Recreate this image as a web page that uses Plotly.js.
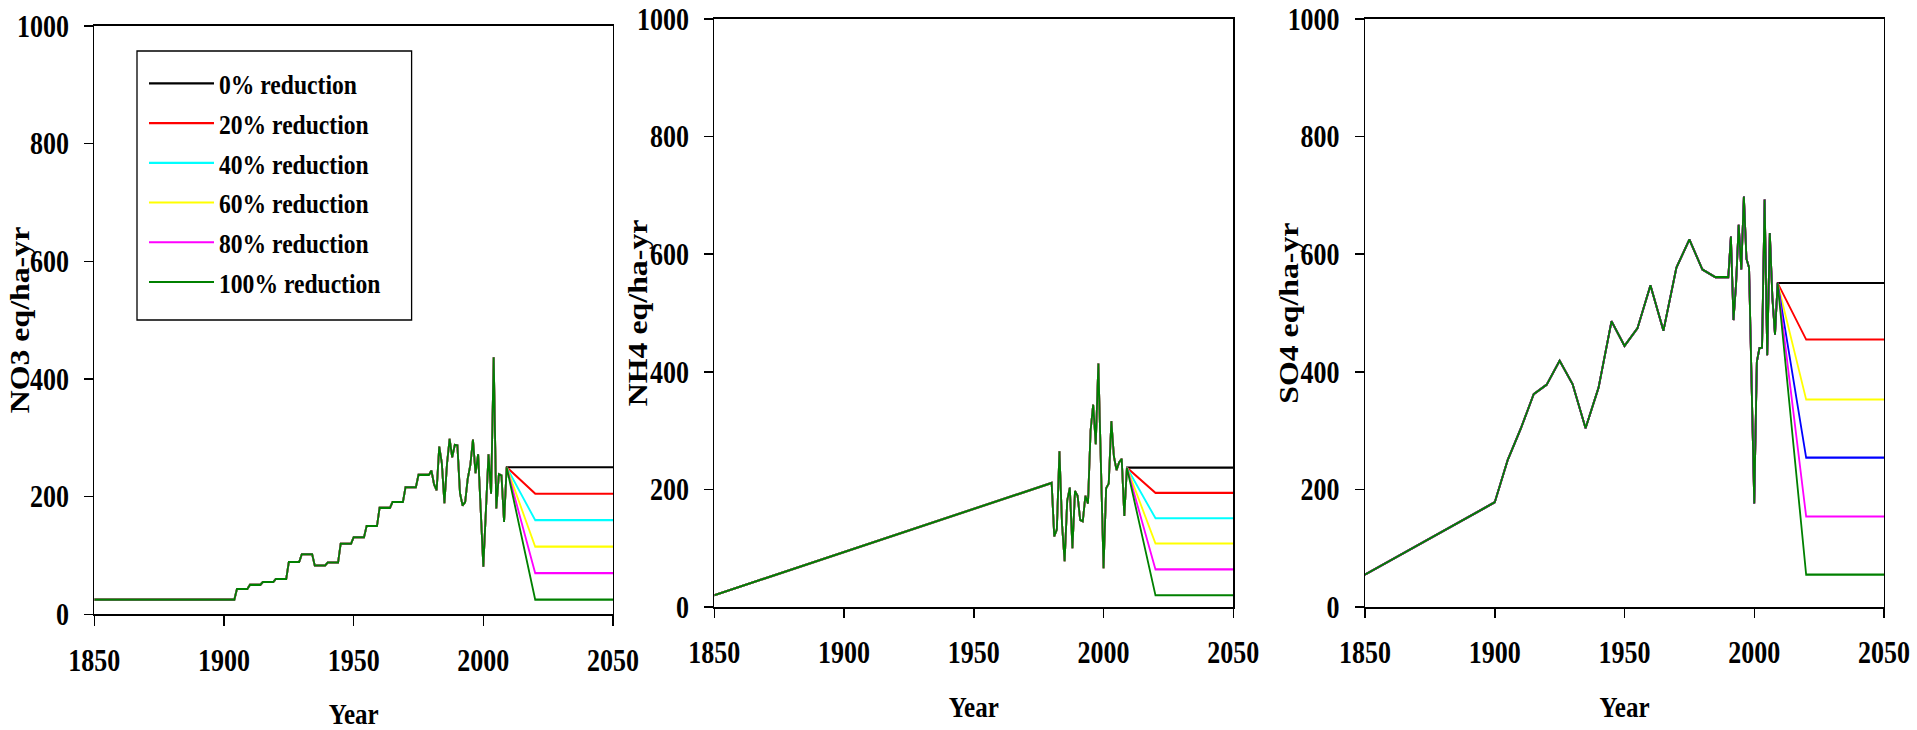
<!DOCTYPE html>
<html>
<head>
<meta charset="utf-8">
<script src="https://cdn.plot.ly/plotly-3.0.1.min.js"></script>
<style>
  html, body { margin: 0; padding: 0; background: #ffffff; }
  #wrap { width: 1917px; height: 730px; position: relative; overflow: hidden; background: #ffffff; }
  /* the reference figure is stretched vertically; draw at 619 px tall and stretch to 730 */
  #chart { position: absolute; left: 0; top: 0; width: 1917px; height: 619px;
           transform: scaleY(1.179321); transform-origin: 0 0; }
</style>
</head>
<body>
<div id="wrap"><div id="chart"></div></div>
<script>
// ---------------- data ----------------
const SCENARIOS = ['0% reduction', '20% reduction', '40% reduction', '60% reduction', '80% reduction', '100% reduction'];

// NO3 deposition (eq/ha-yr), historical record
const NO3_YEARS = [1850, 1904, 1905, 1909, 1910, 1914, 1915, 1919, 1920, 1924, 1925, 1929, 1930, 1934, 1935, 1939,
  1940, 1944, 1945, 1949, 1950, 1954, 1955, 1959, 1960, 1964, 1965, 1969, 1970, 1974, 1975, 1979,
  1980, 1981, 1982, 1983, 1984, 1985, 1986, 1987, 1988, 1989, 1990, 1991, 1992, 1993, 1994, 1995, 1996, 1997, 1998,
  2000, 2002, 2003, 2004, 2005, 2006, 2007, 2008, 2009];
const NO3_VALUES = [25, 25, 43, 43, 50, 50, 55, 55, 60, 60, 89, 89, 102, 102, 83, 83,
  88, 88, 120, 120, 131, 131, 150, 150, 181, 181, 191, 191, 216, 216, 237, 237,
  244, 221, 211, 285, 257, 189, 256, 298, 267, 288, 287, 206, 185, 191, 231, 254, 297, 240, 272,
  81, 272, 205, 437, 180, 238, 236, 157, 250];

// NH4 deposition (eq/ha-yr), historical record
const NH4_YEARS = [1850, 1980, 1981, 1982, 1983, 1984, 1985, 1986, 1987, 1988, 1989, 1990, 1991, 1992, 1993, 1994,
  1995, 1996, 1997, 1998, 2000, 2001, 2002, 2003, 2004, 2005, 2006, 2007, 2008, 2009];
const NH4_VALUES = [20, 211, 120, 132, 265, 141, 78, 181, 203, 100, 197, 189, 148, 146, 189, 176,
  300, 344, 277, 414, 66, 202, 210, 316, 256, 233, 246, 252, 155, 237];

// SO4 deposition (eq/ha-yr), historical record
const SO4_YEARS = [1850, 1900, 1905, 1910, 1915, 1920, 1925, 1930, 1935, 1940, 1945, 1950, 1955, 1960, 1965, 1970,
  1975, 1980, 1985, 1990, 1991, 1992, 1993, 1994, 1995, 1996, 1997, 1998, 2000, 2001, 2002, 2003, 2004,
  2005, 2006, 2007, 2008, 2009];
const SO4_VALUES = [55, 178, 250, 303, 362, 378, 419, 379, 304, 373, 486, 444, 474, 547, 470, 577,
  625, 574, 561, 561, 630, 488, 550, 650, 574, 698, 592, 577, 176, 417, 440, 441, 693,
  428, 636, 525, 463, 551];

// projected levels reached in 2020 and held to 2050, one per scenario
const PROJ_YEARS = [2020, 2050];
const NO3_TARGETS = [250, 205, 160, 115, 70, 25];
const NH4_TARGETS = [237, 194, 151, 108, 64, 20];
const SO4_TARGETS = [551, 455, 353, 254, 154, 55];

const X_TICKS = [1850, 1900, 1950, 2000, 2050];
const Y_TICKS = [0, 200, 400, 600, 800, 1000];
const Y_TITLES = ['NO3 eq/ha-yr', 'NH4 eq/ha-yr', 'SO4 eq/ha-yr'];
const X_TITLE = 'Year';

// ---------------- styling ----------------
const COLORS_N = ['#000000', '#FF0000', '#00FFFF', '#FFFF00', '#FF00FF', '#008000'];
const COLORS_S = ['#000000', '#FF0000', '#FFFF00', '#0000FF', '#FF00FF', '#008000'];

const FONT = 'Liberation Serif, Times New Roman, serif';
const TICK_FONT = {family: FONT, size: 26, color: '#000', weight: 'bold'};
const W = 1917, H = 730, HS = 619, K = H / HS;   // HS: drawn height, K: vertical stretch

const panels = [
  {years: NO3_YEARS, values: NO3_VALUES, targets: NO3_TARGETS, colors: COLORS_N, xa: 'x', ya: 'y', legend: true},
  {years: NH4_YEARS, values: NH4_VALUES, targets: NH4_TARGETS, colors: COLORS_N, xa: 'x2', ya: 'y2', legend: false},
  {years: SO4_YEARS, values: SO4_VALUES, targets: SO4_TARGETS, colors: COLORS_S, xa: 'x3', ya: 'y3', legend: false}
];

const traces = [];
panels.forEach(function (p) {
  SCENARIOS.forEach(function (name, i) {
    const t = p.targets[i];
    traces.push({
      type: 'scatter',
      mode: 'lines',
      name: name,
      legendgroup: 'g' + i,
      showlegend: p.legend,
      x: p.years.concat(PROJ_YEARS),
      y: p.values.concat([t, t]),
      xaxis: p.xa,
      yaxis: p.ya,
      line: {color: p.colors[i], width: 1.8},
      hoverinfo: 'skip'
    });
  });
});

function xd(l, r) { return [l / W, r / W]; }
function yd(bottom, top) { return [1 - bottom / H, 1 - top / H]; }

function xAxis(dom, anchor) {
  return {
    domain: dom, anchor: anchor,
    range: [1850, 2050], tickmode: 'array', tickvals: X_TICKS, ticktext: X_TICKS.map(String),
    ticks: 'outside', ticklen: 8, tickwidth: 1.5, tickcolor: '#000',
    showline: true, linecolor: '#000', linewidth: 1.6, mirror: true,
    showgrid: false, zeroline: false,
    tickfont: TICK_FONT,
    ticklabelstandoff: 7,
    title: {text: X_TITLE, font: {family: FONT, size: 25, color: '#000', weight: 'bold'}, standoff: 23},
    fixedrange: true
  };
}
function yAxis(dom, anchor) {
  return {
    domain: dom, anchor: anchor,
    range: [0, 1000], tickmode: 'array', tickvals: Y_TICKS, ticktext: Y_TICKS.map(String),
    ticks: 'outside', ticklen: 9, tickwidth: 1.3, tickcolor: '#000',
    showline: true, linecolor: '#000', linewidth: 1.2, mirror: true,
    showgrid: false, zeroline: false,
    tickfont: TICK_FONT,
    ticklabelstandoff: 10,
    fixedrange: true
  };
}

const D1 = yd(614.3, 26), D2 = yd(607, 19);
const TITLE_FONT = {family: FONT, size: 27, color: '#000', weight: 'bold'};

function yTitle(text, xpx, dom) {
  return {text: text, xref: 'paper', yref: 'paper', x: xpx / W, y: (dom[0] + dom[1]) / 2, textangle: -90,
    xanchor: 'center', yanchor: 'middle', showarrow: false, font: TITLE_FONT};
}

const layout = {
  width: W, height: HS, autosize: false,
  margin: {l: 0, r: 0, t: 0, b: 0, pad: 0},
  paper_bgcolor: '#ffffff', plot_bgcolor: '#ffffff',
  showlegend: true,
  xaxis: xAxis(xd(94.3, 613), 'y'),
  yaxis: yAxis(D1, 'x'),
  xaxis2: xAxis(xd(714.3, 1233.3), 'y2'),
  yaxis2: yAxis(D2, 'x2'),
  xaxis3: xAxis(xd(1365, 1884), 'y3'),
  yaxis3: yAxis(D2, 'x3'),
  legend: {
    x: 144 / W, y: 1 - (85 / K - 23.2) / HS, xanchor: 'left', yanchor: 'top',
    bgcolor: 'rgba(0,0,0,0)', borderwidth: 0,
    font: {family: FONT, size: 23.6, color: '#000', weight: 'bold'},
    traceorder: 'grouped', tracegroupgap: 0, itemwidth: 65
  },
  shapes: [
    // legend frame
    {type: 'rect', xref: 'paper', yref: 'paper', x0: 137 / W, x1: 411.6 / W, y0: 1 - 320 / H, y1: 1 - 51 / H,
      line: {color: '#000', width: 1.3}, fillcolor: '#ffffff', layer: 'above'}
  ],
  annotations: [
    yTitle(Y_TITLES[0], 20, D1),
    yTitle(Y_TITLES[1], 638, D2),
    yTitle(Y_TITLES[2], 1289, D2)
  ]
};

Plotly.newPlot('chart', traces, layout, {staticPlot: true, displayModeBar: false});
</script>
</body>
</html>
